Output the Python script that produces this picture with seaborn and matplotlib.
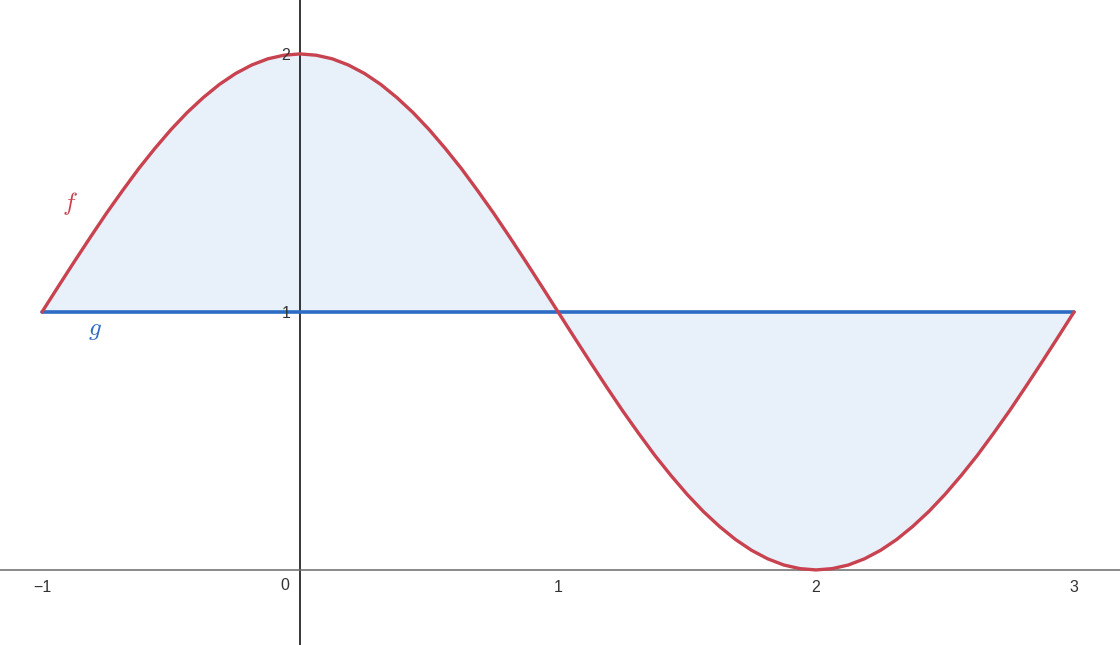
import matplotlib
matplotlib.use("Agg")
import matplotlib.pyplot as plt
import seaborn as sns
import pandas as pd

x_vals = [-1.0, -0.9375, -0.875, -0.8125, -0.75, -0.6875, -0.625, -0.5625,
          -0.5, -0.4375, -0.375, -0.3125, -0.25, -0.1875, -0.125, -0.0625,
          0.0, 0.0625, 0.125, 0.1875, 0.25, 0.3125, 0.375, 0.4375,
          0.5, 0.5625, 0.625, 0.6875, 0.75, 0.8125, 0.875, 0.9375,
          1.0, 1.0625, 1.125, 1.1875, 1.25, 1.3125, 1.375, 1.4375,
          1.5, 1.5625, 1.625, 1.6875, 1.75, 1.8125, 1.875, 1.9375,
          2.0, 2.0625, 2.125, 2.1875, 2.25, 2.3125, 2.375, 2.4375,
          2.5, 2.5625, 2.625, 2.6875, 2.75, 2.8125, 2.875, 2.9375, 3.0]
f_vals = [1.0, 1.098, 1.195, 1.290, 1.383, 1.471, 1.556, 1.634,
          1.707, 1.773, 1.831, 1.882, 1.924, 1.957, 1.981, 1.995,
          2.0, 1.995, 1.981, 1.957, 1.924, 1.882, 1.831, 1.773,
          1.707, 1.634, 1.556, 1.471, 1.383, 1.290, 1.195, 1.098,
          1.0, 0.902, 0.805, 0.710, 0.617, 0.529, 0.444, 0.366,
          0.293, 0.227, 0.169, 0.118, 0.076, 0.043, 0.019, 0.005,
          0.0, 0.005, 0.019, 0.043, 0.076, 0.118, 0.169, 0.227,
          0.293, 0.366, 0.444, 0.529, 0.617, 0.710, 0.805, 0.902, 1.0]
g_vals = [1.0] * len(x_vals)
x_ticks = [-1, 1, 2, 3]
x_tick_labels = ["\u22121", "1", "2", "3"]
y_ticks = [1, 2]
y_tick_labels = ["1", "2"]

sns.set_style("white")
plt.rcParams["font.family"] = ["Liberation Sans", "DejaVu Sans"]
plt.rcParams["mathtext.fontset"] = "cm"

df = pd.DataFrame({"x": x_vals, "f": f_vals, "g": g_vals})

fig = plt.figure(figsize=(11.2, 6.45), dpi=100)
ax = fig.add_axes([0, 0, 1, 1])

ax.fill_between(df["x"], df["f"], df["g"], color="#e8f0f9", linewidth=0, zorder=1)
sns.lineplot(data=df, x="x", y="g", ax=ax, color="#2d6cc4", linewidth=2.6, zorder=3, sort=False)
sns.lineplot(data=df, x="x", y="f", ax=ax, color="#c8424f", linewidth=2.4, zorder=4, sort=False)

ax.set_xlim(-1.163, 3.178)
ax.set_ylim(-0.291, 2.209)

for s in ["top", "right"]:
    ax.spines[s].set_visible(False)
ax.spines["left"].set_position(("data", 0))
ax.spines["bottom"].set_position(("data", 0))
ax.spines["left"].set_color("#000000")
ax.spines["bottom"].set_color("#6a6a6a")
ax.spines["left"].set_linewidth(1.1)
ax.spines["bottom"].set_linewidth(1.1)
ax.spines["left"].set_zorder(2)
ax.spines["bottom"].set_zorder(2)
ax.xaxis.set_zorder(5)
ax.yaxis.set_zorder(5)

ax.set_xticks(x_ticks)
ax.set_xticklabels(x_tick_labels)
ax.set_yticks(y_ticks)
ax.set_yticklabels(y_tick_labels)
ax.tick_params(axis="x", direction="out", length=4, width=1, color="#6a6a6a",
               labelsize=11.5, labelcolor="#333333", pad=3)
ax.tick_params(axis="y", direction="out", length=4, width=1, color="#000000",
               labelsize=11.5, labelcolor="#333333", pad=3)
ax.set_xlabel("")
ax.set_ylabel("")

ax.annotate("0", xy=(0, 0), xytext=(-11, -6), textcoords="offset points",
            ha="center", va="top", fontsize=11.5, color="#333333")

ax.text(-0.89, 1.42, r"$f$", color="#c8424f", fontsize=18, ha="center", va="center")
ax.text(-0.795, 0.93, r"$g$", color="#2d6cc4", fontsize=18, ha="center", va="center")

fig.savefig("out.png", dpi=100)
